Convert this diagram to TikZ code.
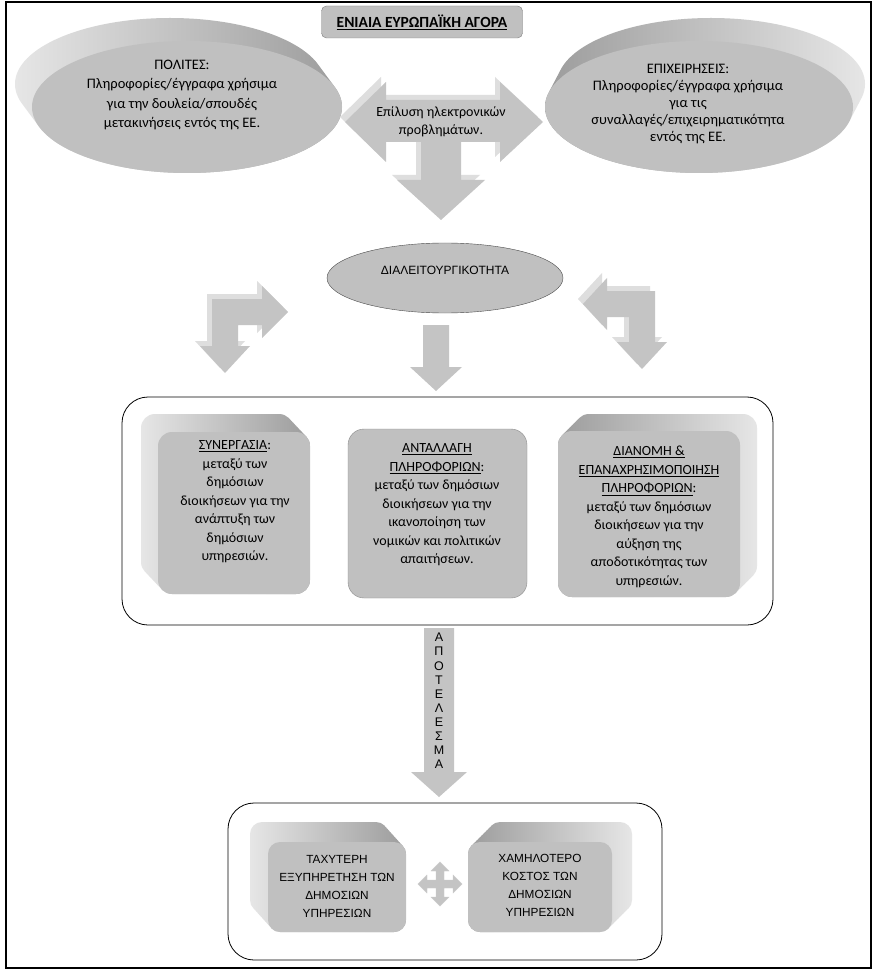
\documentclass[tikz,border=0pt]{standalone}
\usepackage{fontspec}
\setmainfont{Carlito}
\newfontfamily\arialfont{Liberation Sans}
\usetikzlibrary{positioning,shapes.geometric}
\definecolor{boxgray}{HTML}{C0C0C0}
\definecolor{arrowgray}{HTML}{C4C4C4}
\definecolor{backgray}{HTML}{DEDEDE}
\definecolor{shlight}{HTML}{E6E6E6}
\definecolor{shdark}{HTML}{9C9C9C}
\definecolor{edgegray}{HTML}{7F7F7F}

\begin{document}
\begin{tikzpicture}[x=1pt,y=-1pt,
	front/.style={fill=boxgray},
	arrowfront/.style={fill=arrowgray},
	arrowback/.style={fill=backgray},
	txt/.style={align=center,inner sep=0pt,font=\fontsize{14}{18.5}\selectfont},
	captxt/.style={align=center,inner sep=0pt,font=\arialfont\fontsize{11.8}{18}\selectfont},
	frame/.style={draw=black,line width=0.8pt,rounded corners=26pt}]
	\useasboundingbox (0,0) rectangle (876,973);
	\fill[white] (0,0) rectangle (876,973);
	\draw[line width=1.1pt] (6,2) rectangle (871,968);
	%
	\node[draw=edgegray,fill=boxgray,rounded corners=5pt,minimum width=201pt,minimum height=32pt,
		font=\fontsize{15.5}{17}\selectfont\bfseries] (title) at (422,22) {\underline{ΕΝΙΑΙΑ ΕΥΡΩΠΑΪΚΗ ΑΓΟΡΑ}};
	%
	% top ellipses
	\shade[left color=shlight,right color=shdark] \foreach \k in {0,...,12} {(170+17*\k/12,84+23*\k/12) ellipse [x radius=155,y radius=66]};
	\fill[front] (187,107) ellipse [x radius=155,y radius=66];
	\node[txt,font=\fontsize{14.5}{19.3}\selectfont] (citizens) at (182,95) {ΠΟΛΙΤΕΣ:\\Πληροφορίες/έγγραφα χρήσιμα\\για την δουλεία/σπουδές\\μετακινήσεις εντός της ΕΕ.};
	\shade[left color=shdark,right color=shlight] \foreach \k in {0,...,12} {(711-12*\k/12,84+23*\k/12) ellipse [x radius=154,y radius=66]};
	\fill[front] (699,107) ellipse [x radius=154,y radius=66];
	\node[txt,font=\fontsize{14.5}{17}\selectfont] (business) at (688,104) {ΕΠΙΧΕΙΡΗΣΕΙΣ:\\Πληροφορίες/έγγραφα χρήσιμα\\για τις\\συναλλαγές/επιχειρηματικότητα\\εντός της ΕΕ.};
	%
	% T arrow
	\foreach \dx/\st in {-5/arrowback,0/arrowfront}
		\fill[\st,shift={(\dx,\dx)}] (345,122) -- (386,82) -- (386,100) -- (500,100) -- (500,82) -- (543,122)
			-- (500,162) -- (500,142) -- (461,142) -- (461,180) -- (485,180) -- (441,220) -- (397,180)
			-- (421,180) -- (421,142) -- (386,142) -- (386,162) -- cycle;
	\node[txt] (solve) at (441,122) {Επίλυση ηλεκτρονικών\\προβλημάτων.};
	%
	\node[ellipse,draw=black!70,fill=boxgray,minimum width=236pt,minimum height=70pt] (interop) at (445,278) {};
	\node[font=\arialfont\fontsize{12}{14}\selectfont] (interoptext) at (445,270) {ΔΙΑΛΕΙΤΟΥΡΓΙΚΟΤΗΤΑ};
	%
	% bent arrows and down arrow
	\foreach \dx/\st in {-5/arrowback,0/arrowfront}
		\fill[\st,shift={(\dx,\dx)}] (212,299) -- (262,299) -- (262,286) -- (288,312) -- (262,338) -- (262,325)
			-- (238,325) -- (238,346) -- (250,346) -- (225,373) -- (200,346) -- (212,346) -- cycle;
	\foreach \dx/\st in {-5/arrowback,0/arrowfront}
		\fill[\st,shift={(\dx,\dx)}] (655,291) -- (607,291) -- (607,278) -- (583,304) -- (607,330) -- (607,317)
			-- (629,317) -- (629,342) -- (617,342) -- (642,369) -- (667,342) -- (655,342) -- cycle;
	\fill[arrowfront] (423,325) -- (449,325) -- (449,367) -- (462,367) -- (436,391) -- (410,367) -- (423,367) -- cycle;
	%
	% middle container
	\draw[frame] (122,397) rectangle (773,625);
	\shade[left color=shlight,right color=shdark,rounded corners=14pt] \foreach \k in {0,...,12} {(141+17*\k/12,414+18*\k/12) rectangle +(152,162)};
	\fill[front,rounded corners=14pt] (158,432) rectangle (310,594);
	\node[txt] (coop) at (235,502) {\underline{ΣΥΝΕΡΓΑΣΙΑ}:\\μεταξύ των\\δημόσιων\\διοικήσεων για την\\ανάπτυξη των\\δημόσιων\\υπηρεσιών.};
	\fill[front,draw=black!45,rounded corners=16pt] (348,429) rectangle (527,598);
	\node[txt] (exchange) at (437,505) {\underline{ΑΝΤΑΛΛΑΓΗ}\\\underline{ΠΛΗΡΟΦΟΡΙΩΝ}:\\μεταξύ των δημόσιων\\διοικήσεων για την\\ικανοποίηση των\\νομικών και πολιτικών\\απαιτήσεων.};
	\shade[left color=shdark,right color=shlight,rounded corners=14pt] \foreach \k in {0,...,12} {(575-17*\k/12,414+17*\k/12) rectangle +(182,166)};
	\fill[front,rounded corners=14pt] (558,431) rectangle (740,597);
	\node[txt] (reuse) at (649,517) {\underline{ΔΙΑΝΟΜΗ \&}\\\underline{ΕΠΑΝΑΧΡΗΣΙΜΟΠΟΙΗΣΗ}\\\underline{ΠΛΗΡΟΦΟΡΙΩΝ}:\\μεταξύ των δημόσιων\\διοικήσεων για την\\αύξηση της\\αποδοτικότητας των\\υπηρεσιών.};
	%
	% result arrow
	\fill[arrowfront] (424,628) -- (454,628) -- (454,772) -- (467,772) -- (439,797) -- (411,772) -- (424,772) -- cycle;
	\node[align=center,inner sep=0pt,font=\arialfont\fontsize{12.5}{14.1}\selectfont] (result) at (439,701)
		{Α\\Π\\Ο\\Τ\\Ε\\Λ\\Ε\\Σ\\Μ\\Α};
	%
	% bottom container
	\draw[frame] (228,803) rectangle (662,960);
	\shade[left color=shlight,right color=shdark,rounded corners=12pt] \foreach \k in {0,...,12} {(250+18*\k/12,822+20*\k/12) rectangle +(138,90)};
	\fill[front,rounded corners=12pt] (268,842) rectangle (406,932);
	\node[captxt] (faster) at (337,886) {ΤΑΧΥΤΕΡΗ\\ΕΞΥΠΗΡΕΤΗΣΗ ΤΩΝ\\ΔΗΜΟΣΙΩΝ\\ΥΠΗΡΕΣΙΩΝ};
	\shade[left color=shdark,right color=shlight,rounded corners=12pt] \foreach \k in {0,...,12} {(488-20*\k/12,822+20*\k/12) rectangle +(144,90)};
	\fill[front,rounded corners=12pt] (468,842) rectangle (612,932);
	\node[captxt] (cheaper) at (540,885) {ΧΑΜΗΛΟΤΕΡΟ\\ΚΟΣΤΟΣ ΤΩΝ\\ΔΗΜΟΣΙΩΝ\\ΥΠΗΡΕΣΙΩΝ};
	\fill[arrowfront,draw=black!20,shift={(440,884)}] (22,0) -- (13,-9) -- (13,-4) -- (4,-4) -- (4,-13) -- (9,-13)
		-- (0,-22) -- (-9,-13) -- (-4,-13) -- (-4,-4) -- (-13,-4) -- (-13,-9) -- (-22,0) -- (-13,9) -- (-13,4)
		-- (-4,4) -- (-4,13) -- (-9,13) -- (0,22) -- (9,13) -- (4,13) -- (4,4) -- (13,4) -- (13,9) -- cycle;
\end{tikzpicture}
\end{document}
